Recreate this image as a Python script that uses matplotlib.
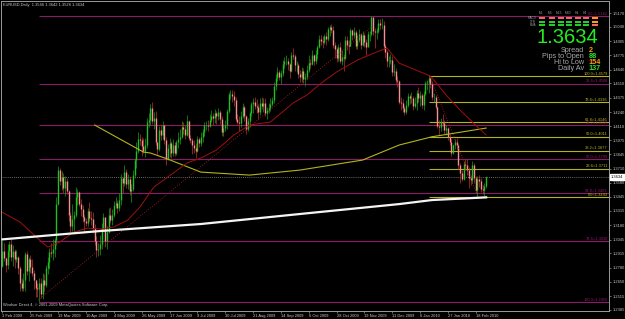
import matplotlib
matplotlib.use("Agg")
import matplotlib.pyplot as plt
from matplotlib.patches import Rectangle
from matplotlib.transforms import blended_transform_factory
import numpy as np

# ---- daily EURUSD bars, prices in pips (1/10000) -------------------------
# open of each bar = close of the previous bar (first open given apart)
first_open = 12800
closes = [
    12940, 12870, 12810, 12940, 13000, 12880, 12940, 12860, 12880, 12780,
    12640, 12590, 12670, 12910, 12750, 12860, 12790, 12730, 12670, 12590,
    12580, 12640, 12530, 12670, 12620, 12780, 12830, 12930, 12920, 12960,
    13040, 13380, 13700, 13590, 13630, 13530, 13590, 13500, 13280, 13170,
    13240, 13280, 13440, 13490, 13380, 13330, 13260, 13220, 13200, 13310,
    13250, 13240, 13150, 13030, 12950, 12960, 13000, 13150, 13260, 13030,
    13120, 13280, 13230, 13280, 13370, 13390, 13340, 13420, 13620, 13580,
    13680, 13570, 13610, 13500, 13520, 13650, 13790, 13880, 13990, 13980,
    13920, 13880, 13930, 14150, 14170, 14280, 14160, 14190, 13960, 13890,
    14070, 14030, 14120, 13980, 13800, 13900, 13950, 13860, 13930, 13860,
    13960, 13990, 14010, 14100, 14080, 14030, 14160, 14000, 13980, 13930,
    13900, 13880, 13990, 13950, 14010, 14050, 14120, 14120, 14110, 14170,
    14200, 14190, 14230, 14200, 14240, 14180, 14050, 14090, 14120, 14250,
    14410, 14410, 14390, 14350, 14180, 14150, 14140, 14200, 14290, 14200,
    14080, 14160, 14230, 14320, 14340, 14300, 14290, 14240, 14330, 14300,
    14330, 14230, 14260, 14280, 14320, 14350, 14490, 14560, 14620, 14570,
    14610, 14690, 14720, 14720, 14690, 14630, 14780, 14770, 14680, 14680,
    14600, 14570, 14630, 14550, 14570, 14640, 14700, 14690, 14780, 14720,
    14790, 14850, 14930, 14910, 14900, 14950, 14930, 15020, 15040, 15010,
    14870, 14830, 14750, 14850, 14720, 14760, 14750, 14920, 14870, 14860,
    15010, 14960, 14990, 14860, 14920, 14970, 14870, 14960, 14900, 14850,
    14970, 14970, 15130, 15000, 14990, 15000, 15080, 15060, 15060, 14860,
    14800, 14720, 14720, 14730, 14620, 14630, 14540, 14530, 14340, 14330,
    14280, 14240, 14310, 14390, 14370, 14370, 14300, 14330, 14420, 14370,
    14400, 14310, 14410, 14510, 14520, 14560, 14500, 14380, 14380, 14290,
    14110, 14100, 14150, 14140, 14070, 14090, 14010, 13960, 13860, 13930,
    13960, 13930, 13740, 13670, 13610, 13750, 13740, 13700, 13620, 13600,
    13740, 13620, 13510, 13610, 13590, 13520, 13510, 13546, 13634,
]
highs = [
    13040, 13010, 12880, 13000, 13030, 13050, 12990, 12960, 12950, 12890,
    12800, 12680, 12730, 12930, 12940, 12880, 12900, 12860, 12760, 12670,
    12640, 12680, 12680, 12730, 12720, 12810, 12880, 12970, 13010, 13050,
    13060, 13440, 13738, 13720, 13690, 13670, 13640, 13620, 13510, 13300,
    13380, 13310, 13540, 13520, 13500, 13430, 13370, 13280, 13250, 13340,
    13400, 13310, 13300, 13190, 13080, 13010, 13090, 13200, 13290, 13260,
    13170, 13340, 13350, 13330, 13410, 13440, 13420, 13480, 13660, 13630,
    13740, 13710, 13660, 13640, 13570, 13700, 13810, 13960, 14050, 14040,
    14010, 14000, 14000, 14190, 14230, 14320, 14338, 14240, 14250, 13960,
    14110, 14130, 14160, 14120, 14010, 13940, 14000, 13970, 13990, 13960,
    13980, 14050, 14080, 14160, 14150, 14120, 14210, 14170, 14030, 14000,
    13980, 13950, 14020, 14010, 14050, 14080, 14150, 14160, 14170, 14220,
    14260, 14230, 14270, 14250, 14280, 14260, 14200, 14130, 14170, 14270,
    14430, 14450, 14447, 14440, 14380, 14220, 14200, 14250, 14330, 14310,
    14210, 14190, 14250, 14340, 14370, 14380, 14360, 14320, 14370, 14380,
    14370, 14370, 14290, 14330, 14370, 14380, 14520, 14600, 14660, 14640,
    14640, 14730, 14760, 14780, 14750, 14700, 14800, 14843, 14790, 14720,
    14700, 14640, 14660, 14650, 14610, 14680, 14780, 14740, 14820, 14790,
    14820, 14870, 14960, 14960, 14950, 14970, 14990, 15040, 15060, 15070,
    15050, 14900, 14850, 14880, 14900, 14820, 14790, 14950, 14950, 14920,
    15030, 15020, 15040, 15010, 14960, 15020, 14980, 15000, 14980, 14930,
    15000, 15000, 15144, 15120, 15030, 15030, 15110, 15110, 15120, 15100,
    14880, 14820, 14770, 14790, 14770, 14690, 14650, 14580, 14540, 14380,
    14360, 14300, 14350, 14420, 14410, 14430, 14390, 14380, 14450, 14480,
    14440, 14420, 14440, 14530, 14540, 14579, 14570, 14530, 14420, 14400,
    14300, 14170, 14190, 14220, 14170, 14120, 14100, 14040, 13990, 13940,
    13990, 14000, 13940, 13760, 13700, 13780, 13800, 13800, 13730, 13650,
    13780, 13760, 13640, 13640, 13650, 13620, 13560, 13580, 13642,
]
lows = [
    12790, 12840, 12740, 12770, 12880, 12840, 12800, 12780, 12830, 12720,
    12560, 12560, 12560, 12560, 12710, 12660, 12730, 12700, 12580, 12510,
    12510, 12455, 12500, 12490, 12560, 12600, 12720, 12770, 12880, 12850,
    12880, 12990, 13370, 13560, 13510, 13480, 13450, 13470, 13220, 13120,
    13130, 13110, 13260, 13370, 13360, 13270, 13210, 13110, 13170, 13170,
    13220, 13180, 13110, 12990, 12886, 12890, 12900, 12960, 13130, 12980,
    12960, 13110, 13200, 13180, 13260, 13340, 13290, 13310, 13370, 13480,
    13550, 13530, 13520, 13460, 13400, 13500, 13620, 13720, 13860, 13930,
    13830, 13860, 13820, 13900, 14100, 14120, 14130, 14080, 13930, 13840,
    13880, 13980, 13990, 13940, 13740, 13790, 13820, 13810, 13830, 13830,
    13840, 13900, 13940, 14000, 14040, 13990, 14020, 13980, 13950, 13850,
    13860, 13810, 13870, 13910, 13920, 13960, 14020, 14070, 14060, 14100,
    14150, 14120, 14140, 14130, 14170, 14130, 14020, 14020, 14060, 14080,
    14230, 14360, 14340, 14300, 14160, 14130, 14060, 14100, 14190, 14160,
    14040, 14060, 14100, 14200, 14230, 14270, 14230, 14180, 14210, 14270,
    14240, 14200, 14180, 14230, 14250, 14300, 14330, 14450, 14530, 14540,
    14500, 14580, 14650, 14680, 14640, 14560, 14620, 14740, 14630, 14620,
    14560, 14520, 14520, 14510, 14483, 14550, 14620, 14650, 14680, 14680,
    14690, 14740, 14840, 14870, 14840, 14880, 14870, 14910, 14950, 14980,
    14840, 14750, 14710, 14720, 14700, 14680, 14623, 14730, 14820, 14790,
    14860, 14920, 14940, 14830, 14830, 14900, 14830, 14860, 14850, 14780,
    14880, 14910, 14950, 14960, 14840, 14930, 14980, 15020, 15020, 14830,
    14750, 14660, 14660, 14690, 14580, 14580, 14510, 14480, 14320, 14260,
    14240, 14218, 14220, 14290, 14320, 14330, 14260, 14280, 14260, 14340,
    14300, 14280, 14260, 14400, 14450, 14420, 14470, 14350, 14340, 14270,
    14090, 14030, 14060, 14110, 14040, 14030, 13980, 13930, 13830, 13850,
    13890, 13890, 13710, 13580, 13590, 13600, 13700, 13650, 13530, 13560,
    13580, 13580, 13480, 13446, 13540, 13490, 13470, 13450, 13528,
]

# date labels of the time axis, one every 16 bars
date_labels = ["3 Feb 2009", "25 Feb 2009", "19 Mar 2009", "10 Apr 2009",
               "4 May 2009", "26 May 2009", "17 Jun 2009", "9 Jul 2009",
               "30 Jul 2009", "21 Aug 2009", "14 Sep 2009", "6 Oct 2009",
               "28 Oct 2009", "19 Nov 2009", "11 Dec 2009", "6 Jan 2010",
               "27 Jan 2010", "18 Feb 2010"]
date_step = 16

price_ticks = [1.5170, 1.5040, 1.4905, 1.4775, 1.4640, 1.4510, 1.4375,
               1.4240, 1.4110, 1.3975, 1.3845, 1.3710, 1.3580, 1.3445,
               1.3315, 1.3180, 1.3045, 1.2915, 1.2780, 1.2650, 1.2515,
               1.2385]

# moving averages (bar index, price)
ma_red_bar = [0, 10, 20, 26, 33, 41, 49, 56, 64, 72, 79, 87, 95, 106, 114,
              123, 133, 142, 154, 167, 175, 184, 192, 204, 215, 221, 228,
              246, 256, 263, 273, 278]
ma_red_val = [1.3300, 1.3210, 1.3060, 1.2975, 1.3022, 1.3116, 1.3153,
              1.3144, 1.3163, 1.3228, 1.3350, 1.3538, 1.3632, 1.3763,
              1.3810, 1.3885, 1.4026, 1.4120, 1.4148, 1.4326, 1.4401,
              1.4523, 1.4617, 1.4729, 1.4804, 1.4842, 1.4700, 1.4579,
              1.4382, 1.4260, 1.4101, 1.4026]
ma_yel_bar = [53, 81, 85, 95, 114, 142, 171, 207, 228, 247, 278]
ma_yel_val = [1.4119, 1.3866, 1.3857, 1.3800, 1.3678, 1.3650, 1.3697,
              1.3791, 1.3932, 1.4010, 1.4091]
ma_white_bar = [0, 56, 114, 171, 228, 247, 278]
ma_white_val = [1.3047, 1.3125, 1.3191, 1.3285, 1.3378, 1.3416, 1.3441]

# dotted trend legs (bar, price)
trend_legs = [((20.4, 1.2478), (212, 1.5039)),
              ((245.7, 1.4579), (273.3, 1.3443))]

# fibonacci levels
fib_long_start = 21
fib_long_pct = ["0.0", "23.6", "38.2", "50.0", "61.8", "78.6", "100.0"]
fib_long_val = [1.5142, 1.4508, 1.4116, 1.3799, 1.3481, 1.3030, 1.2455]
fib_short_start = 245
fib_short_pct = ["100.0", "78.6", "61.8", "50.0", "38.2", "23.6", "0.0"]
fib_short_val = [1.4579, 1.4336, 1.4146, 1.4011, 1.3877, 1.3711, 1.3443]

bid = 1.3634
title = "EURUSD,Daily  1.3546 1.3642 1.3528 1.3634"

info_labels = ["Spread", "Pips to Open", "Hi to Low", "Daily Av"]
info_values = ["2", "88", "154", "137"]
info_colors = ["#ff9a1a", "#2ee02e", "#ff9a1a", "#2ee02e"]

grid_cols = ["M1", "M5", "M15", "M30", "H1", "H4"]
grid_rows = ["MACD", "STR", "EMA"]
R, G, O = "#f06a5a", "#22d022", "#ff9a1a"
grid_colors = [[R, R, R, R, R, R, O],
               [G, G, G, G, G, G, O],
               [G, G, G, G, G, G, R]]

# ---- drawing -------------------------------------------------------------
W, H = 625, 319
BG = "#000000"
FG = "#c8c8c8"
YEL = "#b4b41e"
PUR = "#8e1a6a"
plt.rcParams["font.family"] = ["Liberation Sans", "DejaVu Sans"]

fig = plt.figure(figsize=(W / 100, H / 100), dpi=100, facecolor=BG)


def fx(x):
    return x / W


def fy(y):
    return 1 - y / H


ax = fig.add_axes([fx(1.5), fy(311), fx(609) - fx(1.5), fy(1) - fy(311)])
ax.set_facecolor(BG)
ax.set_xlim(-0.57, 348.6)
ax.set_ylim(1.2375, 1.5283)
for s in ax.spines.values():
    s.set_color("#9a9a9a")
    s.set_linewidth(0.7)

c = np.array(closes) / 1e4
hi = np.array(highs) / 1e4
lo = np.array(lows) / 1e4
o = np.concatenate([[first_open / 1e4], c[:-1]])
idx = np.arange(len(c))
up = c >= o

# bid line
ax.axhline(bid, color="#8a8a8a", lw=0.6, ls=(0, (1, 1.5)), zorder=1)

# fibonacci rays
tr = blended_transform_factory(ax.transAxes, ax.transData)
for pct, v in zip(fib_long_pct, fib_long_val):
    ax.hlines(v, fib_long_start, 348.6, color=PUR, lw=0.8, zorder=1)
    ax.text(0.998, v + 0.0004, f"{pct}={v:.4f}", transform=tr, ha="right",
            va="bottom", fontsize=2.9, color=PUR)
for pct, v in zip(fib_short_pct, fib_short_val):
    ax.hlines(v, fib_short_start, 348.6, color=YEL, lw=0.8, zorder=1)
    ax.text(0.998, v + 0.0004, f"{pct}={v:.4f}", transform=tr, ha="right",
            va="bottom", fontsize=2.9, color=YEL)

# candles
ax.vlines(idx[up], lo[up], hi[up], color="#13a013", lw=0.5, zorder=3)
ax.vlines(idx[~up], lo[~up], hi[~up], color="#c03030", lw=0.5, zorder=3)
ax.vlines(idx[up], o[up], c[up], color="#1fc01f", lw=1.0, zorder=4)
ax.vlines(idx[~up], c[~up], o[~up], color="#f49090", lw=1.0, zorder=4)

# moving averages
ax.plot(ma_yel_bar, ma_yel_val, color=YEL, lw=0.8, zorder=5)
ax.plot(ma_red_bar, ma_red_val, color="#a01010", lw=0.7, zorder=5)
ax.plot(ma_white_bar, ma_white_val, color="#f4f4f4", lw=1.6, zorder=6)
for (b0, p0), (b1, p1) in trend_legs:
    ax.plot([b0, b1], [p0, p1], color="#c02020", lw=0.6,
            ls=(0, (1, 2)), zorder=5)

# axes ticks
ax.yaxis.tick_right()
ax.set_yticks(price_ticks)
ax.set_yticklabels([f"{p:.4f}" for p in price_ticks])
ax.set_xticks(np.arange(len(date_labels)) * date_step)
ax.set_xticklabels(date_labels)
ax.tick_params(axis="both", colors="#9a9a9a", labelcolor=FG, labelsize=2.9,
               length=1.5, width=0.5, pad=1)
for lab in ax.get_xticklabels():
    lab.set_ha("left")

# current price box on the scale
ax.text(1.0035, bid, f"{bid:.4f}", transform=tr, ha="left", va="center",
        fontsize=2.9, color="#000000",
        bbox=dict(boxstyle="square,pad=0.25", fc="#ffffff", ec="#ffffff"))

ax.text(0.003, 0.993, title, transform=ax.transAxes, ha="left", va="top",
        fontsize=2.9, color=FG)
ax.text(0.003, 0.012, "Windsor Direct 4, © 2001-2009 MetaQuotes Software Corp.",
        transform=ax.transAxes, ha="left", va="bottom", fontsize=2.9,
        color=FG)

# info panel, top right
col_x = [539, 548.5, 557.5, 566, 574.5, 583, 592]
row_y = [18.3, 21.7, 25.2]
for j, name in enumerate(grid_cols):
    fig.text(fx(col_x[j] + 2.0), fy(13.0), name, ha="center", va="center",
             fontsize=2.4, color="#9a9a9a")
for i, name in enumerate(grid_rows):
    fig.text(fx(536), fy(row_y[i]), name, ha="right", va="center",
             fontsize=2.2, color="#9a9a9a")
    for j in range(len(col_x)):
        fig.patches.append(Rectangle((fx(col_x[j]), fy(row_y[i] + 1.1)),
                                     fx(6.4), 2.2 / H,
                                     transform=fig.transFigure,
                                     fc=grid_colors[i][j], ec="none"))

fig.text(fx(598), fy(37.5), f"{bid:.4f}", ha="right", va="center",
         fontsize=14.5, color="#22ee22")
info_y = [50, 56, 62, 68.3]
for lab, val, col, y in zip(info_labels, info_values, info_colors, info_y):
    fig.text(fx(584), fy(y), lab, ha="right", va="center", fontsize=5.2,
             color="#a8a8a8")
    fig.text(fx(588.5), fy(y), val, ha="left", va="center", fontsize=5.2,
             color=col, fontweight="bold")

fig.savefig("out.png", dpi=100, facecolor=BG)
